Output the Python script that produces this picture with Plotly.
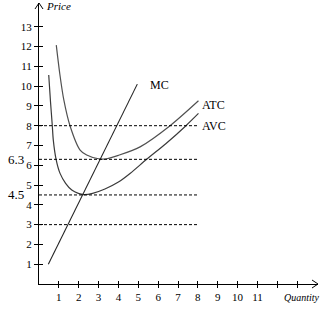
import plotly.graph_objects as go

# Cost curves (quantity, price)
avc_q = [0.49, 0.58, 0.67, 0.72, 0.86, 1.06, 1.34, 1.65, 1.98, 2.25, 2.7, 3.32, 4.0, 4.6, 5.42, 6.4, 7.4, 8.03]
avc_p = [10.56, 9.2, 8.0, 7.27, 6.3, 5.59, 5.09, 4.75, 4.58, 4.52, 4.58, 4.8, 5.15, 5.6, 6.3, 7.1, 8.0, 8.62]

atc_q = [0.87, 1.05, 1.25, 1.56, 2.07, 2.4, 3.0, 3.4, 4.0, 5.09, 6.6, 8.03]
atc_p = [12.07, 10.6, 9.3, 8.0, 6.77, 6.52, 6.33, 6.33, 6.5, 6.93, 8.0, 9.26]

mc_q = [0.47, 4.95]
mc_p = [1.0, 10.1]

# Horizontal price levels and their extent
price_levels = [8, 6.3, 4.5, 3]
level_q_end = 8
marked_levels = [6.3, 4.5]

x_ticks = list(range(1, 14))
x_ticktext = [str(v) if v <= 11 else "" for v in x_ticks]
y_ticks = list(range(1, 14))

X_MAX = 14.05
Y_MAX = 14.2

serif = "Liberation Serif"

fig = go.Figure()

for lvl in price_levels:
    fig.add_trace(go.Scatter(
        x=[0, level_q_end], y=[lvl, lvl], mode="lines",
        line=dict(color="black", width=1, dash="3px,2px"),
        xaxis="x2", yaxis="y2", hoverinfo="skip"))

fig.add_trace(go.Scatter(x=avc_q, y=avc_p, mode="lines",
                         line=dict(color="#3a3a3a", width=1.2, shape="spline", smoothing=0.8)))
fig.add_trace(go.Scatter(x=atc_q, y=atc_p, mode="lines",
                         line=dict(color="#505050", width=1.2, shape="spline", smoothing=0.8)))
fig.add_trace(go.Scatter(x=mc_q, y=mc_p, mode="lines",
                         line=dict(color="#222222", width=1.1)))

axis_common = dict(showgrid=False, zeroline=False, tickcolor="black", tickwidth=1,
                   tickfont=dict(family=serif, size=11, color="black"))

fig.update_layout(
    width=323, height=323,
    margin=dict(l=39, r=5, t=3, b=39),
    plot_bgcolor="white", paper_bgcolor="white",
    showlegend=False,
    xaxis=dict(range=[0, X_MAX], tickvals=x_ticks, ticktext=x_ticktext,
               ticks="outside", ticklen=3, showline=True, linecolor="black",
               linewidth=1, **axis_common),
    yaxis=dict(range=[0, Y_MAX], tickvals=y_ticks, ticks="outside", ticklen=4,
               showline=True, linecolor="black", linewidth=1, **axis_common),
    xaxis2=dict(range=[0, X_MAX], matches="x", overlaying="x", anchor="y2",
                tickvals=x_ticks, ticks="inside", ticklen=3, showticklabels=False,
                showline=False, **axis_common),
    yaxis2=dict(range=[0, Y_MAX], matches="y", overlaying="y", anchor="x2",
                tickvals=y_ticks, ticks="inside", ticklen=4, showticklabels=False,
                showline=False, **axis_common),
)

# Arrow heads at the ends of both axes
fig.add_shape(type="path", xref="paper", yref="paper", xsizemode="pixel",
              ysizemode="pixel", xanchor=0, yanchor=1,
              path="M -4 -6 L 0 0 L 4 -6", line=dict(color="black", width=1))
fig.add_shape(type="path", xref="paper", yref="paper", xsizemode="pixel",
              ysizemode="pixel", xanchor=1, yanchor=0,
              path="M -6 4 L 0 0 L -6 -4", line=dict(color="black", width=1))

label_font = dict(family=serif, size=12, color="black")
fig.add_annotation(x=5.5, y=10.05, text="MC", showarrow=False, xanchor="left",
                   yanchor="middle", font=label_font)
fig.add_annotation(x=8.1, y=9.04, text="ATC", showarrow=False, xanchor="left",
                   yanchor="middle", font=label_font)
fig.add_annotation(x=8.1, y=7.98, text="AVC", showarrow=False, xanchor="left",
                   yanchor="middle", font=label_font)

for lvl in marked_levels:
    fig.add_annotation(x=0, y=lvl, xref="x", yref="y", text=str(lvl), showarrow=False,
                       xanchor="right", yanchor="middle", xshift=-13,
                       font=dict(family=serif, size=13, color="black"))

fig.add_annotation(x=0, y=1, xref="paper", yref="paper", text="<i>Price</i>",
                   showarrow=False, xanchor="left", yanchor="middle", xshift=5, yshift=-3,
                   font=dict(family=serif, size=11, color="black"))
fig.add_annotation(x=1, y=0, xref="paper", yref="paper", text="<i>Quantity</i>",
                   showarrow=False, xanchor="right", yanchor="middle", xshift=4, yshift=-13,
                   font=dict(family=serif, size=10, color="black"))

fig.write_html("out.html")
